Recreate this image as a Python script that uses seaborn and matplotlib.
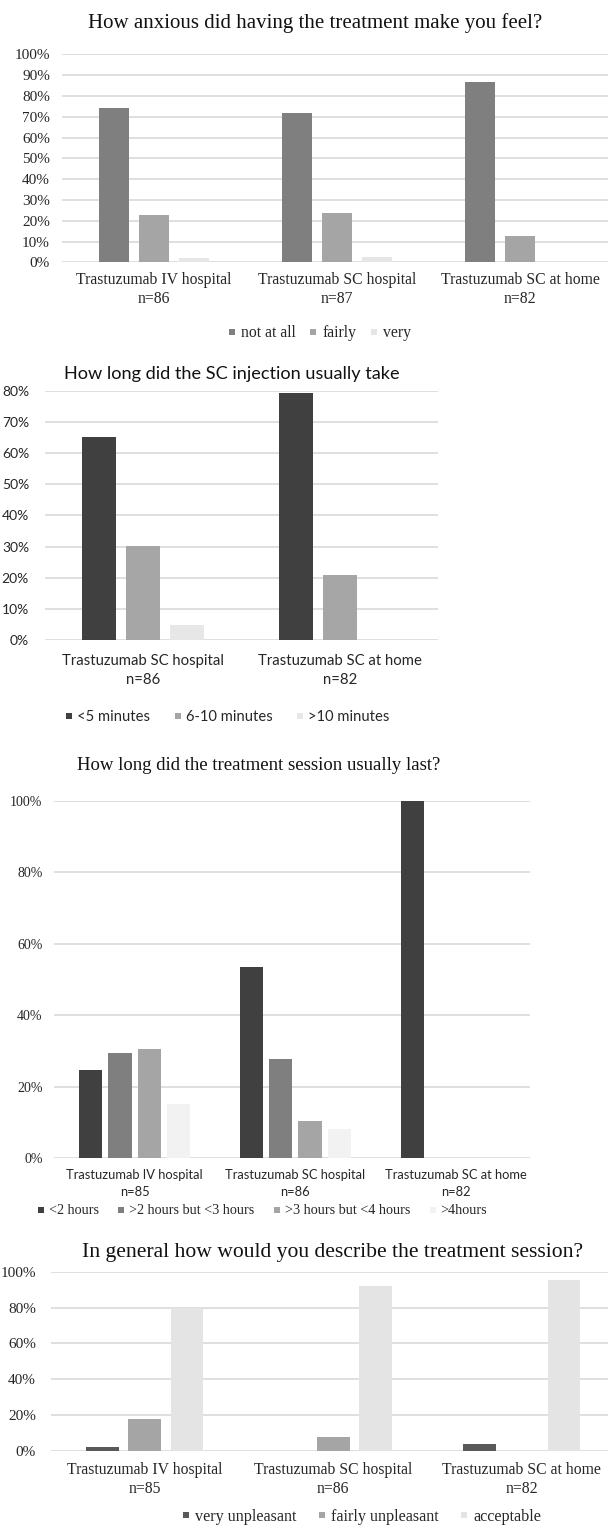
import matplotlib
matplotlib.use("Agg")
import matplotlib.pyplot as plt
from matplotlib.lines import Line2D
from matplotlib.ticker import FuncFormatter, MultipleLocator
import pandas as pd
import seaborn as sns

sns.set_theme(style="white")
SERIF = ["Liberation Serif", "DejaVu Serif"]
SANS = ["Lato", "DejaVu Sans"]
plt.rcParams["font.family"] = SERIF

# ---- data -------------------------------------------------------------
anx_groups = ["Trastuzumab IV hospital\nn=86", "Trastuzumab SC hospital\nn=87",
              "Trastuzumab SC at home\nn=82"]
anx_series = ["not at all", "fairly", "very"]
anx_not_at_all = [74.0, 72.0, 86.5]
anx_fairly = [22.6, 23.9, 12.7]
anx_very = [2.2, 2.7, 0.0]

inj_groups = ["Trastuzumab SC hospital\nn=86", "Trastuzumab SC at home\nn=82"]
inj_series = ["<5 minutes", "6-10 minutes", ">10 minutes"]
inj_lt5 = [65.1, 79.3]
inj_6_10 = [30.2, 20.7]
inj_gt10 = [4.7, 0.0]

dur_groups = ["Trastuzumab IV hospital\nn=85", "Trastuzumab SC hospital\nn=86",
              "Trastuzumab SC at home\nn=82"]
dur_series = ["<2 hours", ">2 hours but <3 hours", ">3 hours but <4 hours", ">4hours"]
dur_lt2 = [24.7, 53.5, 100.0]
dur_2_3 = [29.4, 27.9, 0.0]
dur_3_4 = [30.6, 10.5, 0.0]
dur_gt4 = [15.3, 8.1, 0.0]

ses_groups = ["Trastuzumab IV hospital\nn=85", "Trastuzumab SC hospital\nn=86",
              "Trastuzumab SC at home\nn=82"]
ses_series = ["very unpleasant", "fairly unpleasant", "acceptable"]
ses_very = [2.2, 0.0, 3.9]
ses_fairly = [17.8, 8.0, 0.0]
ses_accept = [79.6, 92.0, 95.5]

W, H = 608, 1529
fig = plt.figure(figsize=(W / 100, H / 100), dpi=100)
GRID = "#d9d9d9"
TXT = "#262626"


def frame(groups, series, columns):
    rows = []
    for s, vals in zip(series, columns):
        for g, v in zip(groups, vals):
            rows.append({"group": g, "series": s, "value": v})
    return pd.DataFrame(rows)


def panel(df, groups, series, colors, px, xlim, ymax, ystep, width, gap,
          tick_font, tick_size, tick_pad, cat_font, cat_size, cat_pad, cat_ls):
    x0, x1, yt, yb = px
    ax = fig.add_axes([x0 / W, 1 - yb / H, (x1 - x0) / W, (yb - yt) / H])
    sns.barplot(data=df, x="group", y="value", hue="series", order=groups,
                hue_order=series, palette=dict(zip(series, colors)),
                width=width, gap=gap, saturation=1, linewidth=0,
                legend=False, ax=ax, zorder=3)
    ax.set_xlim(*xlim)
    ax.set_ylim(0, ymax)
    ax.yaxis.set_major_locator(MultipleLocator(ystep))
    ax.yaxis.set_major_formatter(FuncFormatter(lambda v, p: f"{v:.0f}%"))
    ax.grid(axis="y", color=GRID, lw=1.2, zorder=0)
    ax.set_axisbelow(True)
    for s in ax.spines.values():
        s.set_visible(False)
    ax.set_xlabel("")
    ax.set_ylabel("")
    ax.tick_params(axis="both", length=0, colors=TXT)
    ax.tick_params(axis="y", pad=tick_pad)
    ax.tick_params(axis="x", pad=cat_pad)
    for t in ax.get_yticklabels():
        t.set_family(tick_font)
        t.set_fontsize(tick_size)
    for t in ax.get_xticklabels():
        t.set_family(cat_font)
        t.set_fontsize(cat_size)
        t.set_linespacing(cat_ls)
    return ax


def title(text, x, y, font, size):
    fig.text(x / W, 1 - y / H, text, ha="center", va="center",
             family=font, fontsize=size, color="#111111")


def legend(series, colors, x, y, font, size, colsp, msize):
    handles = [Line2D([], [], ls="none", marker="s", markersize=msize,
                      markerfacecolor=c, markeredgewidth=0) for c in colors]
    fig.legend(handles, series, loc="center", bbox_to_anchor=(x / W, 1 - y / H),
               ncol=len(series), frameon=False, handlelength=0.6,
               handletextpad=0.25, columnspacing=colsp,
               prop={"family": font, "size": size}, labelcolor=TXT,
               borderpad=0, borderaxespad=0)


# ---- panel 1: anxiety --------------------------------------------------
c1 = ["#7f7f7f", "#a5a5a5", "#e6e6e6"]
df1 = frame(anx_groups, anx_series, [anx_not_at_all, anx_fairly, anx_very])
panel(df1, anx_groups, anx_series, c1, (62.5, 611.5, 54.3, 262.3), (-0.5, 2.5),
      100, 10, 0.656, 0.228, SERIF, 11, 9, SERIF, 11.3, 7, 1.25)
title("How anxious did having the treatment make you feel?", 315.5, 22.7, SERIF, 15)
legend(anx_series, c1, 319, 333, SERIF, 11.3, 0.85, 5)

# ---- panel 2: injection time ------------------------------------------
c2 = ["#404040", "#a6a6a6", "#e7e7e7"]
df2 = frame(inj_groups, inj_series, [inj_lt5, inj_6_10, inj_gt10])
panel(df2, inj_groups, inj_series, c2, (45, 438, 390.7, 640), (-0.5, 1.5),
      80, 10, 0.672, 0.228, SANS, 10, 11.5, SANS, 10.7, 10, 1.5)
title("How long did the SC injection usually take", 231.5, 374, SANS, 13.1)
legend(inj_series, c2, 227, 717, SANS, 10.6, 1.55, 5)

# ---- panel 3: session duration ----------------------------------------
c3 = ["#404040", "#7f7f7f", "#a5a5a5", "#f2f2f2"]
df3 = frame(dur_groups, dur_series, [dur_lt2, dur_2_3, dur_3_4, dur_gt4])
panel(df3, dur_groups, dur_series, c3, (54.4, 530, 801, 1158.3), (-0.5, 2.46),
      100, 20, 0.729, 0.205, SERIF, 10, 8.5, SANS, 9.3, 8, 1.5)
title("How long did the treatment session usually last?", 258.8, 766, SERIF, 13.5)
legend(dur_series, c3, 262, 1211, SERIF, 10.2, 1.3, 4.5)

# ---- panel 4: session overall -----------------------------------------
c4 = ["#595959", "#a5a5a5", "#e4e4e4"]
df4 = frame(ses_groups, ses_series, [ses_very, ses_fairly, ses_accept])
panel(df4, ses_groups, ses_series, c4, (50.5, 616, 1271.7, 1451), (-0.5, 2.5),
      100, 20, 0.672, 0.22, SERIF, 11, 10.4, SERIF, 11.3, 8, 1.25)
title("In general how would you describe the treatment session?", 332, 1253, SERIF, 15.6)
legend(ses_series, c4, 361, 1517, SERIF, 11.6, 1.3, 5)

fig.savefig("out.png", dpi=100)
